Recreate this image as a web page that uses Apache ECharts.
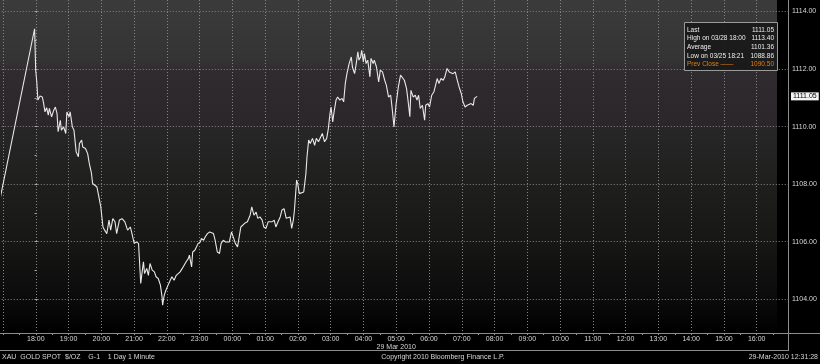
<!DOCTYPE html>
<html>
<head>
<meta charset="utf-8">
<script src="https://cdn.jsdelivr.net/npm/echarts@6/dist/echarts.min.js"></script>
<style>html,body{margin:0;padding:0;background:#000}#c{width:820px;height:364px}</style>
</head>
<body>
<div id="c"></div>
<script>
// ---- data (times of 28/29 Mar 2010, XAU price) ----
const times = ['16:57','18:00','18:02','18:04','18:06','18:10','18:14','18:16','18:19','18:22','18:25','18:27','18:31','18:35','18:38','18:41','18:43','18:47','18:49','18:53','18:57','18:59','19:03','19:05','19:09','19:12','19:16','19:20','19:22','19:26','19:28','19:33','19:37','19:40','19:44','19:46','19:50','19:54','19:57','20:01','20:05','20:08','20:12','20:16','20:19','20:23','20:27','20:30','20:35','20:40','20:45','20:50','20:55','20:58','21:02','21:06','21:10','21:14','21:17','21:19','21:21','21:25','21:28','21:31','21:35','21:39','21:42','21:46','21:50','21:53','21:54','21:57','22:00','22:04','22:08','22:11','22:15','22:19','22:22','22:26','22:30','22:33','22:37','22:41','22:43','22:47','22:49','22:53','22:56','22:59','23:03','23:05','23:09','23:12','23:16','23:20','23:23','23:27','23:30','23:34','23:38','23:41','23:45','23:49','23:52','23:56','00:00','00:03','00:07','00:11','00:14','00:17','00:20','00:25','00:29','00:34','00:37','00:41','00:45','00:48','00:52','00:56','00:59','01:03','01:07','01:10','01:14','01:18','01:21','01:25','01:29','01:32','01:36','01:40','01:43','01:47','01:50','01:53','01:55','01:59','02:01','02:04','02:07','02:12','02:16','02:18','02:21','02:24','02:28','02:32','02:35','02:39','02:43','02:46','02:50','02:54','02:57','03:00','03:02','03:05','03:07','03:11','03:14','03:18','03:22','03:25','03:28','03:31','03:35','03:39','03:41','03:45','03:48','03:51','03:53','03:56','03:58','04:01','04:03','04:06','04:09','04:13','04:15','04:19','04:21','04:25','04:29','04:32','04:36','04:40','04:43','04:47','04:51','04:54','04:57','04:59','05:01','05:05','05:09','05:12','05:16','05:20','05:23','05:26','05:28','05:32','05:36','05:39','05:42','05:45','05:49','05:53','05:55','05:59','06:02','06:06','06:10','06:13','06:16','06:19','06:23','06:27','06:30','06:34','06:38','06:41','06:45','06:49','06:52','06:56','07:00','07:03','07:07','07:11','07:14','07:18','07:22','07:24','07:27','07:29'];
const prices = [1107.50,1113.40,1111.96,1111.55,1110.92,1111.06,1111.03,1110.86,1110.51,1110.66,1110.40,1110.63,1110.34,1110.57,1110.68,1110.45,1109.82,1110.22,1109.87,1109.99,1109.76,1110.51,1110.34,1110.51,1109.99,1109.87,1109.12,1108.95,1109.41,1109.53,1109.29,1109.24,1109.06,1108.72,1108.37,1108.02,1107.96,1107.90,1107.61,1107.21,1106.51,1106.40,1106.28,1106.75,1106.40,1106.80,1106.69,1106.28,1106.75,1106.80,1106.69,1106.40,1106.51,1106.28,1105.94,1105.99,1105.94,1104.55,1105.01,1105.30,1104.89,1105.07,1104.83,1105.24,1105.01,1104.95,1104.78,1104.72,1104.49,1104.08,1103.79,1104.14,1104.31,1104.49,1104.66,1104.78,1104.66,1104.83,1104.78,1104.95,1105.07,1105.12,1105.30,1105.41,1105.53,1105.12,1105.64,1105.70,1105.76,1105.94,1105.99,1106.11,1106.05,1106.17,1106.28,1106.34,1106.40,1106.28,1106.05,1105.64,1105.59,1105.94,1106.05,1105.99,1105.94,1105.99,1106.34,1106.40,1105.94,1105.82,1105.88,1106.51,1106.57,1106.65,1106.69,1106.92,1107.21,1106.92,1107.03,1106.81,1106.86,1106.75,1106.51,1106.46,1106.69,1106.75,1106.69,1106.75,1106.51,1106.69,1106.86,1107.09,1107.15,1106.81,1106.75,1106.86,1106.46,1106.75,1107.09,1108.14,1108.02,1107.67,1107.73,1107.73,1108.37,1108.95,1109.53,1109.41,1109.59,1109.35,1109.59,1109.47,1109.64,1109.76,1109.47,1109.59,1109.93,1110.45,1110.68,1110.16,1110.45,1110.92,1111.03,1110.92,1110.98,1110.86,1111.50,1111.84,1112.19,1112.42,1112.07,1111.84,1112.19,1112.60,1112.31,1112.42,1112.65,1112.25,1112.54,1112.19,1112.31,1111.73,1112.37,1112.19,1112.31,1112.07,1111.55,1111.96,1111.90,1111.61,1111.44,1111.03,1111.09,1110.57,1109.99,1110.40,1110.80,1111.38,1111.79,1111.84,1111.61,1111.32,1110.86,1110.34,1111.26,1111.03,1111.09,1110.92,1111.09,1110.63,1110.74,1110.22,1110.74,1110.80,1110.68,1111.09,1111.21,1111.15,1111.67,1111.50,1111.67,1111.61,1111.73,1112.02,1111.90,1111.96,1111.84,1111.90,1111.67,1111.38,1111.15,1110.86,1110.68,1110.74,1110.68,1110.80,1110.74,1110.98,1110.92,1111.05];
const yMin = 1104, yMax = 1114, yStep = 2;
const dateLabel = '29 Mar 2010';
const dateLabelHour = '05:00';
const lastHourLabel = '16:00';
const legendLabels = ['Last', 'High on 03/28 18:00', 'Average', 'Low on 03/25 18:21', 'Prev Close \u2014\u2014'];
const legendValues = ['1111.05', '1113.40', '1101.36', '1088.86', '1090.50'];
const footerLeft = 'XAU  GOLD SPOT  $/OZ    G-1    1 Day 1 Minute';
const footerMid = 'Copyright 2010 Bloomberg Finance L.P.';
const footerRight = '29-Mar-2010 12:31:28';

// ---- helpers ----
function toMin(t) { // minutes relative to 28 Mar 18:00
  const [h, m] = t.split(':').map(Number);
  let v = h * 60 + m - 1080;
  if (v < -100) v += 1440;
  return v;
}
function fmtHour(v) {
  const h = ((Math.round(v / 60) + 18) % 24 + 24) % 24;
  return (h < 10 ? '0' : '') + h + ':00';
}
const pts = times.map((t, i) => [toMin(t), prices[i]]);
const lastMin = toMin(lastHourLabel);

const FONT = "'Liberation Sans',Arial,sans-serif";
const PX_PER_MIN = 0.547, X18 = 34.6, RIGHT_EDGE = 788;
const XMIN = -60;
const GL = X18 + XMIN * PX_PER_MIN;
const XMAX = XMIN + (RIGHT_EDGE - GL) / PX_PER_MIN;

const chart = echarts.init(document.getElementById('c'), null, { renderer: 'canvas' });
const txt = '#d6d6d6';
const gridCol = '#858585';

const legendGraphics = [{
  type: 'rect', z: 50,
  shape: { x: 684.5, y: 22.5, width: 93, height: 48 },
  style: { fill: 'rgba(24,24,24,0.9)', stroke: '#9a9a9a', lineWidth: 1 }
}];
legendLabels.forEach((l, i) => {
  const col = i === 4 ? '#e07f12' : '#ececec';
  legendGraphics.push({ type: 'text', z: 51, x: 687, y: 30 + i * 8.6,
    style: { text: l, fill: col, font: '6.5px ' + FONT, textVerticalAlign: 'middle' } });
  legendGraphics.push({ type: 'text', z: 51, x: 774, y: 30 + i * 8.6,
    style: { text: legendValues[i], fill: col, font: '6.5px ' + FONT, textAlign: 'right', textVerticalAlign: 'middle' } });
});

const option = {
  backgroundColor: '#000',
  animation: false,
  grid: [
    { left: GL, right: 820 - RIGHT_EDGE, top: 0, bottom: 31 },
    { left: GL, right: 820 - RIGHT_EDGE, top: 11.5, bottom: 64.8 }
  ],
  xAxis: [
    { type: 'value', gridIndex: 0, min: XMIN, max: XMAX, interval: 60, z: 5,
      axisLine: { show: false },
      axisTick: { show: true, length: 2, lineStyle: { color: '#999' } },
      minorTick: { show: true, splitNumber: 2, length: 2, lineStyle: { color: '#999' } },
      axisLabel: { color: txt, fontSize: 7, fontFamily: FONT, margin: 2, lineHeight: 8,
        showMaxLabel: false,
        formatter: v => (v < 0 || v > lastMin + 0.5 || Math.abs(v % 60) > 0.01) ? '' :
          (fmtHour(v) === dateLabelHour ? fmtHour(v) + '\n' + dateLabel : fmtHour(v)) },
      splitLine: { show: true, lineStyle: { type: [1, 2], color: gridCol, width: 1 } } },
    { type: 'value', gridIndex: 1, min: XMIN, max: XMAX, show: false }
  ],
  yAxis: [
    { type: 'value', gridIndex: 0, min: 0, max: 1, show: false },
    { type: 'value', gridIndex: 1, position: 'right', min: yMin, max: yMax, interval: yStep, z: 5,
      axisLine: { show: false },
      axisTick: { show: true, length: 3, lineStyle: { color: '#aaa' } },
      minorTick: { show: true, splitNumber: 2, length: 2, lineStyle: { color: '#aaa' } },
      axisLabel: { color: txt, fontSize: 7, fontFamily: FONT, margin: 4, formatter: v => v.toFixed(2) },
      splitLine: { show: true, lineStyle: { type: [1, 2], color: gridCol, width: 1 } } }
  ],
  series: [{
    type: 'line', xAxisIndex: 1, yAxisIndex: 1, data: pts,
    symbol: 'none', clip: false, z: 10,
    lineStyle: { color: '#e8e8e8', width: 1.1 },
    markLine: {
      silent: true, symbol: ['none', 'none'],
      lineStyle: { color: 'rgba(0,0,0,0)', width: 0.01 },
      data: [{ yAxis: prices[prices.length - 1] }],
      label: { show: true, position: 'end', distance: 3, formatter: p => p.value.toFixed(2),
        backgroundColor: '#f2f2f2', color: '#000', fontSize: 7, fontFamily: FONT, padding: [1, 2, 0, 2] }
    }
  }],
  graphic: [
    { type: 'rect', z: -10, silent: true,
      shape: { x: 0, y: 0, width: 777, height: 333 },
      style: { fill: new echarts.graphic.LinearGradient(0, 0, 0, 1, [
        { offset: 0, color: '#3b3b3b' },
        { offset: 0.18, color: '#343434' },
        { offset: 0.215, color: '#302b2f' },
        { offset: 0.375, color: '#2a2629' },
        { offset: 0.40, color: '#262626' },
        { offset: 0.55, color: '#1f1f1e' },
        { offset: 0.72, color: '#171716' },
        { offset: 0.9, color: '#0b0b0b' },
        { offset: 1, color: '#000000' }
      ]) } },
    { type: 'line', z: 60, shape: { x1: 788.5, y1: 0, x2: 788.5, y2: 350.5 }, style: { stroke: '#8c8c8c', lineWidth: 1 } },
    { type: 'line', z: 60, shape: { x1: 0, y1: 333.5, x2: 820, y2: 333.5 }, style: { stroke: '#8c8c8c', lineWidth: 1 } },
    { type: 'line', z: 60, shape: { x1: 0, y1: 350.5, x2: 789, y2: 350.5 }, style: { stroke: '#8c8c8c', lineWidth: 1 } },
    { type: 'text', z: 60, x: 2, y: 357, style: { text: footerLeft, fill: txt, font: '7px ' + FONT, textVerticalAlign: 'middle' } },
    { type: 'text', z: 60, x: 443, y: 357, style: { text: footerMid, fill: txt, font: '7px ' + FONT, textAlign: 'center', textVerticalAlign: 'middle' } },
    { type: 'text', z: 60, x: 818, y: 357, style: { text: footerRight, fill: txt, font: '7px ' + FONT, textAlign: 'right', textVerticalAlign: 'middle' } }
  ].concat(legendGraphics)
};
chart.setOption(option);
</script>
</body>
</html>
